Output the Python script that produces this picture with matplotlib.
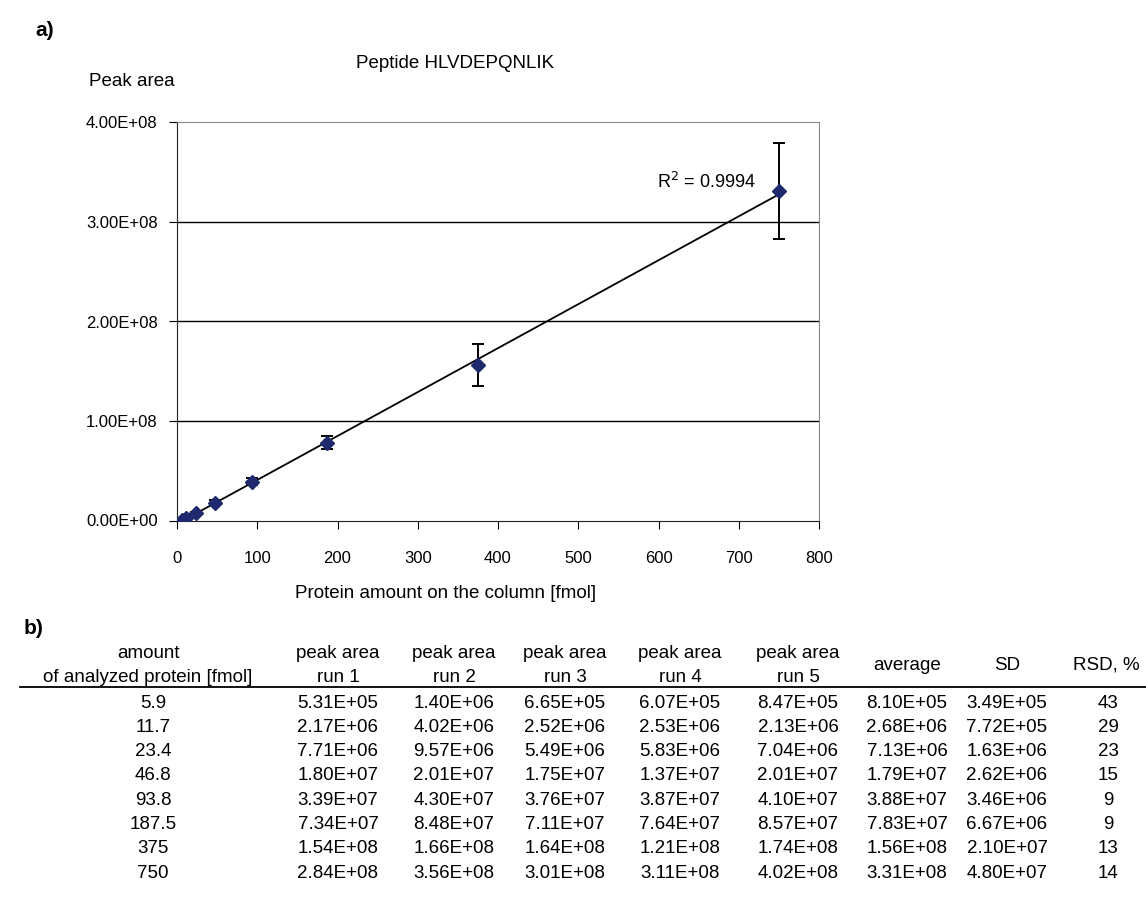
import numpy as np
import matplotlib
matplotlib.use("Agg")
import matplotlib.pyplot as plt

plt.rcParams['font.family'] = ['Liberation Sans', 'DejaVu Sans']

# ---------------------
# Data
# ---------------------
amount = [5.9, 11.7, 23.4, 46.8, 93.8, 187.5, 375, 750]
run1 = [5.31e5, 2.17e6, 7.71e6, 1.80e7, 3.39e7, 7.34e7, 1.54e8, 2.84e8]
run2 = [1.40e6, 4.02e6, 9.57e6, 2.01e7, 4.30e7, 8.48e7, 1.66e8, 3.56e8]
run3 = [6.65e5, 2.52e6, 5.49e6, 1.75e7, 3.76e7, 7.11e7, 1.64e8, 3.01e8]
run4 = [6.07e5, 2.53e6, 5.83e6, 1.37e7, 3.87e7, 7.64e7, 1.21e8, 3.11e8]
run5 = [8.47e5, 2.13e6, 7.04e6, 2.01e7, 4.10e7, 8.57e7, 1.74e8, 4.02e8]
average = [8.10e5, 2.68e6, 7.13e6, 1.79e7, 3.88e7, 7.83e7, 1.56e8, 3.31e8]
sd = [3.49e5, 7.72e5, 1.63e6, 2.62e6, 3.46e6, 6.67e6, 2.10e7, 4.80e7]
rsd = [43, 29, 23, 15, 9, 9, 13, 14]
r2_label = "R$^2$ = 0.9994"

W, H = 1146, 907


def fx(px):
    return px / W


def fy(py):
    return 1 - py / H


fig = plt.figure(figsize=(W / 100, H / 100), dpi=100)

# ---------------------
# Panel a) calibration plot
# ---------------------
ax = fig.add_axes([fx(177), fy(520.5), fx(819) - fx(177), fy(122.5) - fy(520.5)])
ax.set_xlim(0, 800)
ax.set_ylim(0, 4e8)
ax.set_xticks(np.arange(0, 801, 100))
ax.set_yticks(np.arange(0, 4.01e8, 1e8))
ax.set_yticklabels([f"{v:.2E}" for v in ax.get_yticks()])
for v in [1e8, 2e8, 3e8]:
    ax.axhline(v, color='black', lw=1.0, zorder=1)

slope, icpt = np.polyfit(amount, average, 1)
xfit = np.array([amount[0], amount[-1]])
ax.plot(xfit, slope * xfit + icpt, color='black', lw=1.3, zorder=2)
ax.errorbar(amount, average, yerr=sd, fmt='D', color='#1f2a6e', ms=7,
            ecolor='black', elinewidth=1.4, capsize=4.5, capthick=1.4, zorder=3)
ax.text(721, 3.40e8, r2_label, ha='right', va='center', fontsize=13)

for side in ['top', 'right']:
    ax.spines[side].set_color('#888888')
for side in ['left', 'bottom']:
    ax.spines[side].set_color('#222222')
ax.tick_params(axis='x', direction='out', length=6, pad=16, labelsize=12)
ax.tick_params(axis='y', direction='out', length=6, pad=8, labelsize=12)

fig.text(fx(356), fy(63), "Peptide HLVDEPQNLIK", ha='left', va='center', fontsize=13.5)
fig.text(fx(89), fy(82), "Peak area", ha='left', va='center', fontsize=13.5)
fig.text(fx(446), fy(594), "Protein amount on the column [fmol]", ha='center',
         va='center', fontsize=13.5)
fig.text(fx(35), fy(31), "a)", ha='left', va='center', fontsize=15, fontweight='bold')
fig.text(fx(24), fy(629), "b)", ha='left', va='center', fontsize=15, fontweight='bold')

# ---------------------
# Panel b) table
# ---------------------
col_x = [153, 338, 454, 565, 680, 798, 907, 1007, 1108]
head1 = ["amount", "peak area", "peak area", "peak area", "peak area", "peak area"]
head2 = ["of analyzed protein [fmol]", "run 1", "run 2", "run 3", "run 4", "run 5"]
head_x = [148, 338, 454, 565, 680, 798]
for hx, t1, t2 in zip(head_x, head1, head2):
    fig.text(fx(hx), fy(653), t1, ha='center', va='center', fontsize=13.5)
    fig.text(fx(hx), fy(677), t2, ha='center', va='center', fontsize=13.5)
for hx, t in zip([907, 1007, 1106], ["average", "SD", "RSD, %"]):
    fig.text(fx(hx), fy(665), t, ha='center', va='center', fontsize=13.5)
fig.add_artist(plt.Line2D([fx(20), 1], [fy(687), fy(687)], color='black', lw=1.3))

rows = zip(amount, run1, run2, run3, run4, run5, average, sd, rsd)
for i, r in enumerate(rows):
    y = fy(703 + i * 24.3)
    cells = [f"{r[0]:g}"] + [f"{v:.2E}" for v in r[1:8]] + [str(r[8])]
    for cx, c in zip(col_x, cells):
        fig.text(fx(cx), y, c, ha='center', va='center', fontsize=13.5)

fig.savefig("out.png", dpi=100)
